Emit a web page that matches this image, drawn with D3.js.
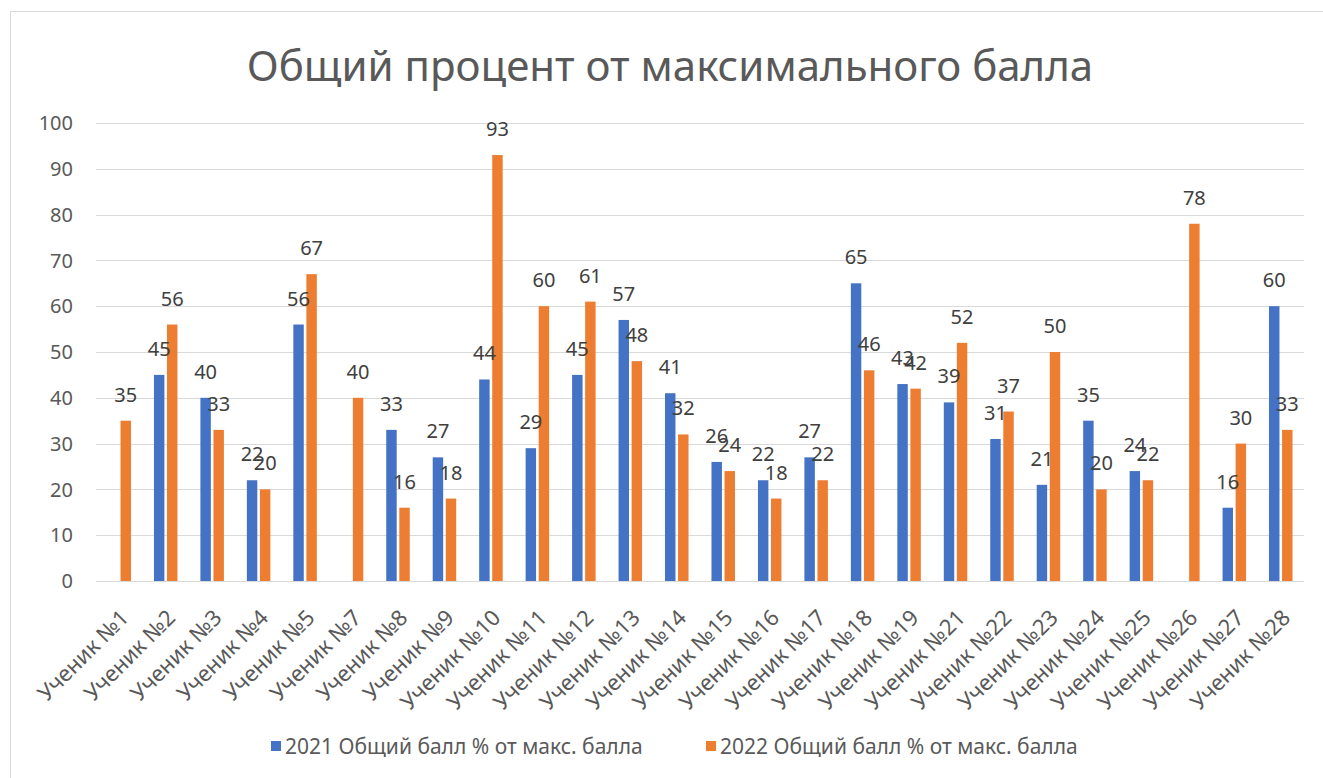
<!doctype html>
<html lang="ru">
  <head>
    <meta charset="UTF-8" />
    <title>Общий процент от максимального балла</title>
    <script src="https://d3js.org/d3.v7.min.js"></script>
    <style>
      body {
        margin: 0;
        padding: 0;
        background: #fff;
        font-family: 'Noto Sans', 'Open Sans', sans-serif;
      }
      .grid line {
        stroke: #d9d9d9;
        stroke-width: 1px;
        shape-rendering: crispEdges;
      }
      .tick-label {
        fill: #595959;
        font-size: 20px;
      }
      .x-label {
        fill: #595959;
        font-size: 22px;
      }
      .legend text {
        fill: #595959;
        font-size: 21px;
      }
      .value {
        fill: #404040;
        font-size: 20px;
      }
    </style>
  </head>
  <body>
    <svg id="chart" width="1323" height="778"></svg>

    <script>
      const categories = [
        'Ученик №1', 'Ученик №2', 'Ученик №3', 'Ученик №4', 'Ученик №5',
        'Ученик №7', 'Ученик №8', 'Ученик №9', 'Ученик №10', 'Ученик №11',
        'Ученик №12', 'Ученик №13', 'Ученик №14', 'Ученик №15', 'Ученик №16',
        'Ученик №17', 'Ученик №18', 'Ученик №19', 'Ученик №21', 'Ученик №22',
        'Ученик №23', 'Ученик №24', 'Ученик №25', 'Ученик №26', 'Ученик №27',
        'Ученик №28',
      ];

      const values2021 = [
        null, 45, 40, 22, 56, null, 33, 27, 44, 29, 45, 57, 41, 26, 22, 27,
        65, 43, 39, 31, 21, 35, 24, null, 16, 60,
      ];

      const values2022 = [
        35, 56, 33, 20, 67, 40, 16, 18, 93, 60, 61, 48, 32, 24, 18, 22, 46,
        42, 52, 37, 50, 20, 22, 78, 30, 33,
      ];

      const seriesNames = [
        '2021 Общий балл % от макс. балла',
        '2022 Общий балл % от макс. балла',
      ];

      const yTicks = [0, 10, 20, 30, 40, 50, 60, 70, 80, 90, 100];

      const title = 'Общий процент от максимального балла';

      const colors = ['#4472c4', '#ed7d31'];

      const svg = d3.select('#chart');

      // chart frame
      svg
        .append('rect')
        .attr('x', 10.5)
        .attr('y', 11.5)
        .attr('width', 1340)
        .attr('height', 800)
        .attr('fill', '#fff')
        .attr('stroke', '#d9d9d9');

      const plot = { left: 96, right: 1304, top: 123, bottom: 581 };

      const x = d3
        .scaleBand()
        .domain(categories)
        .range([plot.left, plot.right]);

      const groupWidth = 23.5;
      const xs = d3
        .scaleBand()
        .domain([0, 1])
        .range([0, groupWidth])
        .paddingInner(0.2);

      const y = d3
        .scaleLinear()
        .domain([0, 100])
        .range([plot.bottom, plot.top]);

      // gridlines
      svg
        .append('g')
        .attr('class', 'grid')
        .selectAll('line')
        .data(yTicks)
        .enter()
        .append('line')
        .attr('x1', plot.left)
        .attr('x2', plot.right)
        .attr('y1', (d) => Math.round(y(d)) + 0.5)
        .attr('y2', (d) => Math.round(y(d)) + 0.5);

      // y tick labels
      svg
        .append('g')
        .selectAll('text')
        .data(yTicks)
        .enter()
        .append('text')
        .attr('class', 'tick-label')
        .attr('x', 73)
        .attr('y', (d) => y(d))
        .attr('dy', '0.36em')
        .attr('text-anchor', 'end')
        .text((d) => d);

      const series = [values2021, values2022];

      const rows = [];
      series.forEach(function (vals, s) {
        vals.forEach(function (v, i) {
          if (v !== null) rows.push({ s: s, cat: categories[i], v: v });
        });
      });

      const offset = (x.bandwidth() - groupWidth) / 2;

      // bars
      svg
        .append('g')
        .selectAll('rect')
        .data(rows)
        .enter()
        .append('rect')
        .attr('x', (d) => x(d.cat) + offset + xs(d.s))
        .attr('y', (d) => y(d.v))
        .attr('width', xs.bandwidth())
        .attr('height', (d) => y(0) - y(d.v))
        .attr('fill', (d) => colors[d.s]);

      // value labels
      svg
        .append('g')
        .selectAll('text')
        .data(rows)
        .enter()
        .append('text')
        .attr('class', 'value')
        .attr('x', (d) => x(d.cat) + offset + xs(d.s) + xs.bandwidth() / 2)
        .attr('y', (d) => y(d.v) - 19)
        .attr('text-anchor', 'middle')
        .text((d) => d.v);

      // category labels
      svg
        .append('g')
        .selectAll('text')
        .data(categories)
        .enter()
        .append('text')
        .attr('class', 'x-label')
        .attr('text-anchor', 'end')
        .attr('transform', function (d) {
          const cx = x(d) + x.bandwidth() / 2 + 11;
          return `translate(${cx},${plot.bottom + 38}) rotate(-45)`;
        })
        .text((d) => d);

      // title
      svg
        .append('text')
        .attr('x', 670)
        .attr('y', 81)
        .attr('text-anchor', 'middle')
        .attr('fill', '#595959')
        .style('font-size', '42px')
        .text(title);

      // legend
      const legendX = [271, 706];
      const legend = svg
        .append('g')
        .attr('class', 'legend')
        .selectAll('g')
        .data(seriesNames)
        .enter()
        .append('g')
        .attr('transform', (d, i) => `translate(${legendX[i]},746)`);

      legend
        .append('rect')
        .attr('x', 0)
        .attr('y', -5)
        .attr('width', 10)
        .attr('height', 10)
        .attr('fill', (d, i) => colors[i]);

      legend
        .append('text')
        .attr('x', 14)
        .attr('y', 0)
        .attr('dy', '0.36em')
        .text((d) => d);
    </script>
  </body>
</html>
